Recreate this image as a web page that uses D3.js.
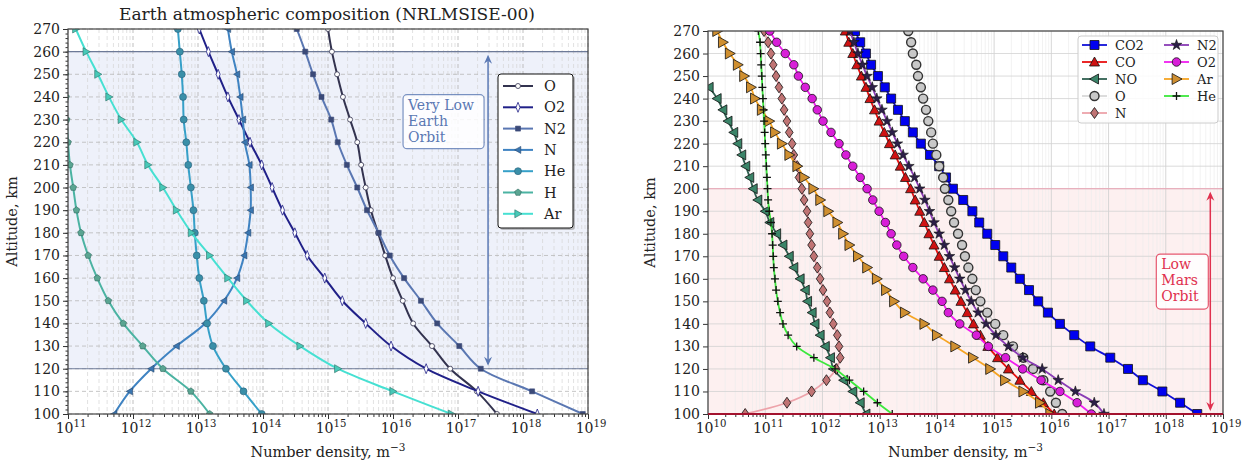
<!DOCTYPE html>
<html>
<head>
<meta charset="utf-8">
<script src="https://cdn.jsdelivr.net/npm/d3@7"></script>
<style>
  body { margin: 0; background: #fff; }
  svg { font-family: "DejaVu Serif", serif; }
</style>
</head>
<body>
<svg id="chart" width="1245" height="463"></svg>
<script>
// ---- Earth (NRLMSISE-00), log10 of number density [m^-3], 100..270 km every 10 km
var earthAlt = [100, 110, 120, 130, 140, 150, 160, 170, 180, 190, 200, 210, 220, 230, 240, 250, 260, 270];
var earthO  = [17.60, 17.29, 16.88, 16.60, 16.31, 16.15, 16.00, 15.88, 15.77, 15.66, 15.58, 15.51, 15.45, 15.34, 15.23, 15.14, 15.06, 15.00];
var earthO2 = [18.22, 17.31, 16.51, 15.97, 15.58, 15.22, 14.95, 14.68, 14.49, 14.30, 14.14, 13.98, 13.80, 13.63, 13.46, 13.31, 13.16, 13.02];
var earthN2 = [18.92, 18.14, 17.35, 17.02, 16.68, 16.43, 16.17, 15.95, 15.78, 15.60, 15.45, 15.29, 15.15, 15.05, 14.90, 14.77, 14.65, 14.52];
var earthN  = [11.71, 11.95, 12.28, 12.67, 13.11, 13.40, 13.60, 13.71, 13.77, 13.81, 13.81, 13.79, 13.72, 13.69, 13.65, 13.60, 13.52, 13.46];
var earthHe = [13.98, 13.70, 13.43, 13.23, 13.14, 13.09, 13.02, 12.98, 12.95, 12.93, 12.89, 12.85, 12.82, 12.78, 12.77, 12.75, 12.72, 12.69];
var earthH  = [13.18, 12.89, 12.46, 12.15, 11.85, 11.62, 11.45, 11.31, 11.20, 11.13, 11.08, 11.03, 11.00, 10.98, 10.97, 10.96, 10.95, 10.95];
var earthAr = [16.90, 16.00, 15.15, 14.57, 14.09, 13.75, 13.46, 13.18, 12.90, 12.67, 12.46, 12.23, 12.06, 11.82, 11.63, 11.46, 11.28, 11.12];

// ---- Mars, log10 of number density [m^-3], 100..270 km every 5 km
var marsAlt = [100, 105, 110, 115, 120, 125, 130, 135, 140, 145, 150, 155, 160, 165, 170, 175, 180, 185,
               190, 195, 200, 205, 210, 215, 220, 225, 230, 235, 240, 245, 250, 255, 260, 265, 270];
var marsCO2 = [18.55, 18.25, 17.94, 17.60, 17.34, 17.03, 16.68, 16.40, 16.15, 15.94, 15.77, 15.61, 15.45, 15.30, 15.16, 15.02, 14.88, 14.74,
               14.62, 14.46, 14.28, 14.16, 14.04, 13.88, 13.72, 13.58, 13.44, 13.32, 13.20, 13.09, 12.97, 12.85, 12.76, 12.66, 12.57];
var marsCO  = [16.05, 15.86, 15.65, 15.45, 15.25, 15.06, 14.89, 14.76, 14.64, 14.53, 14.42, 14.32, 14.22, 14.13, 14.04, 13.95, 13.86, 13.78,
               13.70, 13.62, 13.54, 13.45, 13.36, 13.27, 13.17, 13.08, 12.99, 12.91, 12.83, 12.76, 12.68, 12.60, 12.53, 12.46, 12.40];
var marsNO  = [12.76, 12.66, 12.53, 12.37, 12.19, 12.14, 12.05, 11.96, 11.87, 11.82, 11.74, 11.70, 11.61, 11.50, 11.42, 11.31, 11.20, 11.08,
               11.00, 10.87, 10.79, 10.73, 10.66, 10.59, 10.52, 10.45, 10.35, 10.26, 10.16, 10.02, null, null, null, null, null];
var marsO   = [16.19, 16.08, 15.98, 15.86, 15.68, 15.51, 15.33, 15.16, 15.02, 14.88, 14.76, 14.68, 14.62, 14.55, 14.49, 14.44, 14.37, 14.30,
               14.25, 14.20, 14.14, 14.11, 14.04, 13.99, 13.93, 13.90, 13.85, 13.81, 13.76, 13.72, 13.67, 13.64, 13.58, 13.55, 13.50];
var marsN   = [10.65, 11.38, 11.81, 12.07, 12.24, 12.31, 12.29, 12.26, 12.19, 12.13, 12.08, 12.01, 11.96, 11.91, 11.85, 11.81, 11.78, 11.75,
               11.73, 11.68, 11.64, 11.59, 11.56, 11.50, 11.47, 11.42, 11.38, 11.33, 11.29, 11.24, 11.19, 11.14, 11.10, 11.05, 10.98];
var marsN2  = [16.92, 16.75, 16.42, 16.12, 15.84, 15.50, 15.25, 15.03, 14.86, 14.72, 14.60, 14.50, 14.40, 14.31, 14.22, 14.13, 14.04, 13.95,
               13.87, 13.79, 13.70, 13.61, 13.51, 13.41, 13.31, 13.22, 13.13, 13.04, 12.95, 12.87, 12.78, 12.70, 12.62, 12.55, 12.48];
var marsO2  = [16.70, 16.45, 16.15, 15.82, 15.50, 15.20, 14.90, 14.69, 14.40, 14.20, 14.09, 13.93, 13.76, 13.58, 13.42, 13.30, 13.20, 13.10,
               12.99, 12.88, 12.78, 12.66, 12.53, 12.41, 12.29, 12.15, 12.01, 11.91, 11.82, 11.70, 11.58, 11.50, 11.35, 11.20, 11.08];
var marsAr  = [15.98, 15.80, 15.51, 15.19, 14.93, 14.63, 14.32, 14.00, 13.78, 13.44, 13.25, 13.11, 12.95, 12.78, 12.62, 12.47, 12.36, 12.26,
               12.10, 11.96, 11.84, 11.68, 11.56, 11.42, 11.29, 11.17, 11.07, 10.94, 10.82, 10.75, 10.63, 10.52, 10.38, 10.26, 10.16];
var marsHe  = [13.22, 12.96, 12.72, 12.47, 12.22, 11.85, 11.55, 11.40, 11.31, 11.26, 11.22, 11.19, 11.17, 11.15, 11.14, 11.13, 11.12, 11.10,
               11.07, 11.05, 11.04, 11.03, 11.02, 11.01, 11.00, 10.99, 10.98, 10.97, 10.96, 10.95, 10.94, 10.93, 10.92, 10.91, 10.88];

// axis ticks
var altTicks = d3.range(100, 271, 10);
var earthDecades = d3.range(11, 20);
var marsDecades = d3.range(10, 20);

// orbit annotations (altitude bands, arrow position in m^-3)
var vleoBand = [120, 260];
var vleoArrowX = 2.9e17;
var lmoBand = [100, 200];
var lmoArrowX = 6.0e18;

var svg = d3.select('#chart');

// ---------- marker shapes
function shape(type, s) {
    var h = s / 2;
    function poly(pts) { return 'M' + pts.map(function(p){ return p[0].toFixed(2) + ',' + p[1].toFixed(2); }).join('L') + 'Z'; }
    switch (type) {
        case 'circle': return 'M' + h + ',0A' + h + ',' + h + ' 0 1,1 ' + (-h) + ',0A' + h + ',' + h + ' 0 1,1 ' + h + ',0Z';
        case 'square': return poly([[-h,-h],[h,-h],[h,h],[-h,h]]);
        case 'up':     return poly([[0,-h],[h,h*0.8],[-h,h*0.8]]);
        case 'left':   return poly([[-h,0],[h*0.8,-h],[h*0.8,h]]);
        case 'right':  return poly([[h,0],[-h*0.8,-h],[-h*0.8,h]]);
        case 'diamond': return poly([[0,-h],[h*0.7,0],[0,h],[-h*0.7,0]]);
        case 'thin':   return poly([[0,-h],[h*0.4,0],[0,h],[-h*0.4,0]]);
        case 'pent':   return poly(d3.range(5).map(function(i){ var a = -Math.PI/2 + i*2*Math.PI/5; return [h*Math.cos(a), h*Math.sin(a)]; }));
        case 'star':   return d3.symbol(d3.symbolStar, s*s*0.35)();
        case 'plus':   return 'M' + (-h) + ',0H' + h + 'M0,' + (-h) + 'V' + h;
    }
}

function drawMarker(g, cx, cy, st) {
    g.append('path')
        .attr('d', shape(st.marker, st.size))
        .attr('transform', 'translate(' + cx + ',' + cy + ')')
        .attr('fill', st.marker === 'plus' ? 'none' : st.fill)
        .attr('stroke', st.edge)
        .attr('stroke-width', st.ew);
}

function supLabel(g, x, y, exp, size) {
    var t = g.append('text').attr('x', x).attr('y', y).attr('text-anchor', 'middle')
        .attr('font-size', size).attr('fill', '#222');
    t.append('tspan').text('10');
    t.append('tspan').attr('dy', -size*0.45).attr('font-size', size*0.72).text(exp);
}

// ---------- one panel
function panel(cfg) {
    var x = d3.scaleLog().domain(cfg.xDomain).range([cfg.x0, cfg.x1]);
    var y = d3.scaleLinear().domain([100, 270]).range([cfg.yBot, cfg.yTop]);
    var g = svg.append('g');
    var clipId = 'clip' + cfg.id;
    svg.append('clipPath').attr('id', clipId).append('rect')
        .attr('x', cfg.x0).attr('y', cfg.yTop).attr('width', cfg.x1 - cfg.x0).attr('height', cfg.yBot - cfg.yTop);

    // band
    g.append('rect')
        .attr('x', cfg.x0).attr('width', cfg.x1 - cfg.x0)
        .attr('y', y(cfg.band[1])).attr('height', y(cfg.band[0]) - y(cfg.band[1]))
        .attr('fill', cfg.bandFill);

    // grid
    var minors = [];
    for (var e = cfg.decades[0]; e < cfg.decades[cfg.decades.length - 1]; e++)
        for (var m = 2; m < 10; m++) minors.push(m * Math.pow(10, e));
    var grid = g.append('g');
    grid.selectAll('.gmin').data(minors).enter().append('line')
        .attr('x1', function(d){ return x(d); }).attr('x2', function(d){ return x(d); })
        .attr('y1', cfg.yTop).attr('y2', cfg.yBot)
        .attr('stroke', cfg.gridMinor).attr('stroke-width', 0.7).attr('stroke-dasharray', cfg.dash);
    grid.selectAll('.gmaj').data(cfg.decades.map(function(d){ return Math.pow(10, d); })).enter().append('line')
        .attr('x1', function(d){ return x(d); }).attr('x2', function(d){ return x(d); })
        .attr('y1', cfg.yTop).attr('y2', cfg.yBot)
        .attr('stroke', cfg.gridMajor).attr('stroke-width', 0.9).attr('stroke-dasharray', cfg.dash);
    grid.selectAll('.gy').data(altTicks).enter().append('line')
        .attr('x1', cfg.x0).attr('x2', cfg.x1)
        .attr('y1', function(d){ return y(d); }).attr('y2', function(d){ return y(d); })
        .attr('stroke', cfg.gridMajor).attr('stroke-width', 0.8).attr('stroke-dasharray', cfg.dash);

    // band edge lines
    cfg.bandLines.forEach(function(bl) {
        g.append('line').attr('x1', cfg.x0).attr('x2', cfg.x1)
            .attr('y1', y(bl.alt)).attr('y2', y(bl.alt))
            .attr('stroke', bl.color).attr('stroke-width', bl.w);
    });

    // series
    var plot = g.append('g').attr('clip-path', 'url(#' + clipId + ')');
    cfg.series.forEach(function(s) {
        var pts = cfg.alt.map(function(a, i){ return { a: a, v: s.vals[i] }; });
        var line = d3.line()
            .defined(function(d){ return d.v != null; })
            .x(function(d){ return x(Math.pow(10, d.v)); })
            .y(function(d){ return y(d.a); })
            .curve(d3.curveCatmullRom);
        plot.append('path').datum(pts).attr('d', line)
            .attr('fill', 'none').attr('stroke', s.color).attr('stroke-width', s.lw);
        pts.forEach(function(p) {
            if (p.v == null) return;
            drawMarker(plot, x(Math.pow(10, p.v)), y(p.a), s);
        });
    });

    // axes
    var ax = g.append('g').attr('transform', 'translate(0,' + cfg.yBot + ')')
        .call(d3.axisBottom(x).tickValues(cfg.decades.map(function(d){ return Math.pow(10, d); })).tickFormat('').tickSizeInner(5).tickSizeOuter(0));
    g.append('g').attr('transform', 'translate(0,' + cfg.yBot + ')')
        .call(d3.axisBottom(x).tickValues(minors).tickFormat('').tickSizeInner(3).tickSizeOuter(0))
        .select('.domain').remove();
    cfg.decades.forEach(function(d) { supLabel(g, x(Math.pow(10, d)) + 3, cfg.yBot + 19, d, 14); });

    var ay = g.append('g').attr('transform', 'translate(' + cfg.x0 + ',0)')
        .call(d3.axisLeft(y).tickValues(altTicks).tickSizeInner(5).tickSizeOuter(0).tickPadding(3));
    ay.selectAll('text').attr('font-size', 14).attr('font-family', '"DejaVu Serif", serif').attr('fill', '#222');
    if (cfg.minorY) {
        g.append('g').attr('transform', 'translate(' + cfg.x0 + ',0)')
            .call(d3.axisLeft(y).tickValues(d3.range(100, 271, 2)).tickFormat('').tickSizeInner(2.5).tickSizeOuter(0))
            .select('.domain').remove();
    }
    g.selectAll('.tick line').attr('stroke', '#333');

    // frame
    g.append('rect').attr('x', cfg.x0).attr('y', cfg.yTop)
        .attr('width', cfg.x1 - cfg.x0).attr('height', cfg.yBot - cfg.yTop)
        .attr('fill', 'none').attr('stroke', '#444').attr('stroke-width', 1.2);
    ax.select('.domain').remove();
    ay.select('.domain').remove();

    // bottom red edge (Mars panel)
    if (cfg.bottomLine) {
        g.append('line').attr('x1', cfg.x0).attr('x2', cfg.x1)
            .attr('y1', y(100)).attr('y2', y(100))
            .attr('stroke', cfg.bottomLine).attr('stroke-width', 2.2);
    }

    // axis labels
    var xl = g.append('text').attr('x', (cfg.x0 + cfg.x1) / 2).attr('y', 457)
        .attr('text-anchor', 'middle').attr('font-size', 14.5).attr('fill', '#222');
    xl.append('tspan').text('Number density, m');
    xl.append('tspan').attr('dy', -6).attr('font-size', 10.5).text('\u22123');
    g.append('text').attr('transform', 'translate(' + cfg.yLabelX + ',' + ((cfg.yTop + cfg.yBot) / 2) + ') rotate(-90)')
        .attr('text-anchor', 'middle').attr('font-size', 14.5).attr('fill', '#222').text('Altitude, km');

    // arrow + label box
    var axp = x(cfg.arrowX);
    var yA = y(cfg.band[1]) + 3, yB = y(cfg.band[0]) - 3;
    g.append('line').attr('x1', axp).attr('x2', axp).attr('y1', yA + 2).attr('y2', yB - 2)
        .attr('stroke', cfg.annColor).attr('stroke-width', 1.5);
    g.append('path').attr('d', 'M' + axp + ',' + yA + 'l-4,9l4,-3l4,3Z').attr('fill', cfg.annColor);
    g.append('path').attr('d', 'M' + axp + ',' + yB + 'l-4,-9l4,3l4,-3Z').attr('fill', cfg.annColor);

    var bx = axp - cfg.box.gap - cfg.box.w;
    var by = y(cfg.box.topAlt);
    g.append('rect').attr('x', bx).attr('y', by).attr('width', cfg.box.w).attr('height', cfg.box.h)
        .attr('rx', 4).attr('fill', '#fff').attr('fill-opacity', 0.85)
        .attr('stroke', cfg.annColor).attr('stroke-opacity', 0.8).attr('stroke-width', 1.2);
    cfg.box.lines.forEach(function(t, i) {
        g.append('text').attr('x', bx + 5).attr('y', by + 15 + i * 16)
            .attr('font-size', 14).attr('fill', cfg.annColor).text(t);
    });

    return { x: x, y: y, g: g };
}

// ---------- Earth panel
var earthSeries = [
    { name: 'O',  vals: earthO,  color: '#33334f', lw: 2, marker: 'circle', size: 5,  fill: '#fff',    edge: '#33334f', ew: 0.8 },
    { name: 'O2', vals: earthO2, color: '#202088', lw: 2, marker: 'thin',   size: 10, fill: '#fff',    edge: '#202088', ew: 0.8 },
    { name: 'N2', vals: earthN2, color: '#5a77b2', lw: 2, marker: 'square', size: 5,  fill: '#3b4a78', edge: '#3b4a78', ew: 0.6 },
    { name: 'N',  vals: earthN,  color: '#3f83c2', lw: 2, marker: 'left',   size: 7,  fill: '#3a76b0', edge: '#2a4a70', ew: 0.6 },
    { name: 'He', vals: earthHe, color: '#36a0c8', lw: 2, marker: 'circle', size: 7,  fill: '#3a8fa8', edge: '#28607a', ew: 0.6 },
    { name: 'H',  vals: earthH,  color: '#4bb3a2', lw: 2, marker: 'pent',   size: 7,  fill: '#5aa592', edge: '#2e6a5e', ew: 0.6 },
    { name: 'Ar', vals: earthAr, color: '#46e0d2', lw: 2, marker: 'right',  size: 8,  fill: '#48c9b8', edge: '#2c6f66', ew: 0.6 }
];

var pE = panel({
    id: 'E', alt: earthAlt, series: earthSeries,
    xDomain: [1e11, 1e19], decades: earthDecades,
    x0: 68, x1: 588, yTop: 29, yBot: 414, yLabelX: 17,
    band: vleoBand, bandFill: '#eef1fa',
    bandLines: [{ alt: vleoBand[0], color: '#6d7a98', w: 1.1 }, { alt: vleoBand[1], color: '#6d7a98', w: 1.1 }],
    gridMajor: '#b8b8b8', gridMinor: '#d4d4d4', dash: '4,3', minorY: true,
    arrowX: vleoArrowX, annColor: '#5a78b3',
    box: { w: 81, h: 54, gap: 4, topAlt: 241, lines: ['Very Low', 'Earth', 'Orbit'] }
});

svg.append('text').attr('x', 327).attr('y', 20).attr('text-anchor', 'middle')
    .attr('font-size', 17).attr('fill', '#222').text('Earth atmospheric composition (NRLMSISE-00)');

// Earth legend
(function() {
    var lg = svg.append('g').attr('transform', 'translate(498,74)');
    lg.append('rect').attr('x', 2).attr('y', 2).attr('width', 75).attr('height', 154).attr('rx', 3).attr('fill', '#888').attr('opacity', 0.5);
    lg.append('rect').attr('width', 75).attr('height', 154).attr('rx', 3)
        .attr('fill', '#fff').attr('stroke', '#111').attr('stroke-width', 1);
    earthSeries.forEach(function(s, i) {
        var yy = 12 + i * 21.3;
        lg.append('line').attr('x1', 5).attr('x2', 35).attr('y1', yy).attr('y2', yy)
            .attr('stroke', s.color).attr('stroke-width', s.lw);
        drawMarker(lg, 20, yy, s);
        lg.append('text').attr('x', 46).attr('y', yy + 5).attr('font-size', 14.5).attr('fill', '#222').text(s.name);
    });
})();

// ---------- Mars panel
var marsSeries = [
    { name: 'CO2', vals: marsCO2, color: '#1010d8', lw: 1.8, marker: 'square',  size: 9,  fill: '#0000f0', edge: '#111', ew: 0.8 },
    { name: 'CO',  vals: marsCO,  color: '#e81010', lw: 1.8, marker: 'up',      size: 10, fill: '#d01212', edge: '#111', ew: 0.8 },
    { name: 'NO',  vals: marsNO,  color: '#2f5f50', lw: 1.8, marker: 'left',    size: 10, fill: '#3a8468', edge: '#111', ew: 0.8 },
    { name: 'O',   vals: marsO,   color: '#c4c4c4', lw: 1.2, marker: 'circle',  size: 9,  fill: '#c8c8c8', edge: '#333', ew: 1.4 },
    { name: 'N',   vals: marsN,   color: '#eda3aa', lw: 1.8, marker: 'diamond', size: 11, fill: '#c07474', edge: '#111', ew: 0.8 },
    { name: 'N2',  vals: marsN2,  color: '#8a3cb5', lw: 1.8, marker: 'star',    size: 10, fill: '#2c1f48', edge: '#111', ew: 0.6 },
    { name: 'O2',  vals: marsO2,  color: '#f01ef0', lw: 1.8, marker: 'circle',  size: 8.5, fill: '#d81ed8', edge: '#111', ew: 0.8 },
    { name: 'Ar',  vals: marsAr,  color: '#f5a423', lw: 1.8, marker: 'right',   size: 11, fill: '#cf8f30', edge: '#111', ew: 0.8 },
    { name: 'He',  vals: marsHe,  color: '#3ce83c', lw: 1.8, marker: 'plus',    size: 8,  fill: 'none',    edge: '#111', ew: 1.3 }
];

var pM = panel({
    id: 'M', alt: marsAlt, series: marsSeries,
    xDomain: [1e10, 1e19], decades: marsDecades,
    x0: 708, x1: 1223, yTop: 31, yBot: 414, yLabelX: 655,
    band: lmoBand, bandFill: '#fdf0f0',
    bandLines: [{ alt: lmoBand[1], color: '#eaa4b4', w: 1 }],
    gridMajor: '#d2d2d2', gridMinor: '#ececec', dash: null, minorY: false,
    arrowX: lmoArrowX, annColor: '#e0304e', bottomLine: '#a3122e',
    box: { w: 52, h: 55, gap: 2, topAlt: 171, lines: ['Low', 'Mars', 'Orbit'] }
});

// Mars legend (two columns)
(function() {
    var lg = svg.append('g').attr('transform', 'translate(1078,36)');
    lg.append('rect').attr('width', 140).attr('height', 87).attr('rx', 3)
        .attr('fill', '#fff').attr('fill-opacity', 0.85).attr('stroke', '#ccc').attr('stroke-width', 1);
    marsSeries.forEach(function(s, i) {
        var col = i < 5 ? 0 : 1, row = i < 5 ? i : i - 5;
        var xx = col === 0 ? 4 : 86, yy = 9 + row * 17;
        lg.append('line').attr('x1', xx).attr('x2', xx + 25).attr('y1', yy).attr('y2', yy)
            .attr('stroke', s.color).attr('stroke-width', s.lw);
        drawMarker(lg, xx + 12.5, yy, s);
        lg.append('text').attr('x', xx + 33).attr('y', yy + 5).attr('font-size', 13).attr('fill', '#222').text(s.name);
    });
})();
</script>
</body>
</html>
